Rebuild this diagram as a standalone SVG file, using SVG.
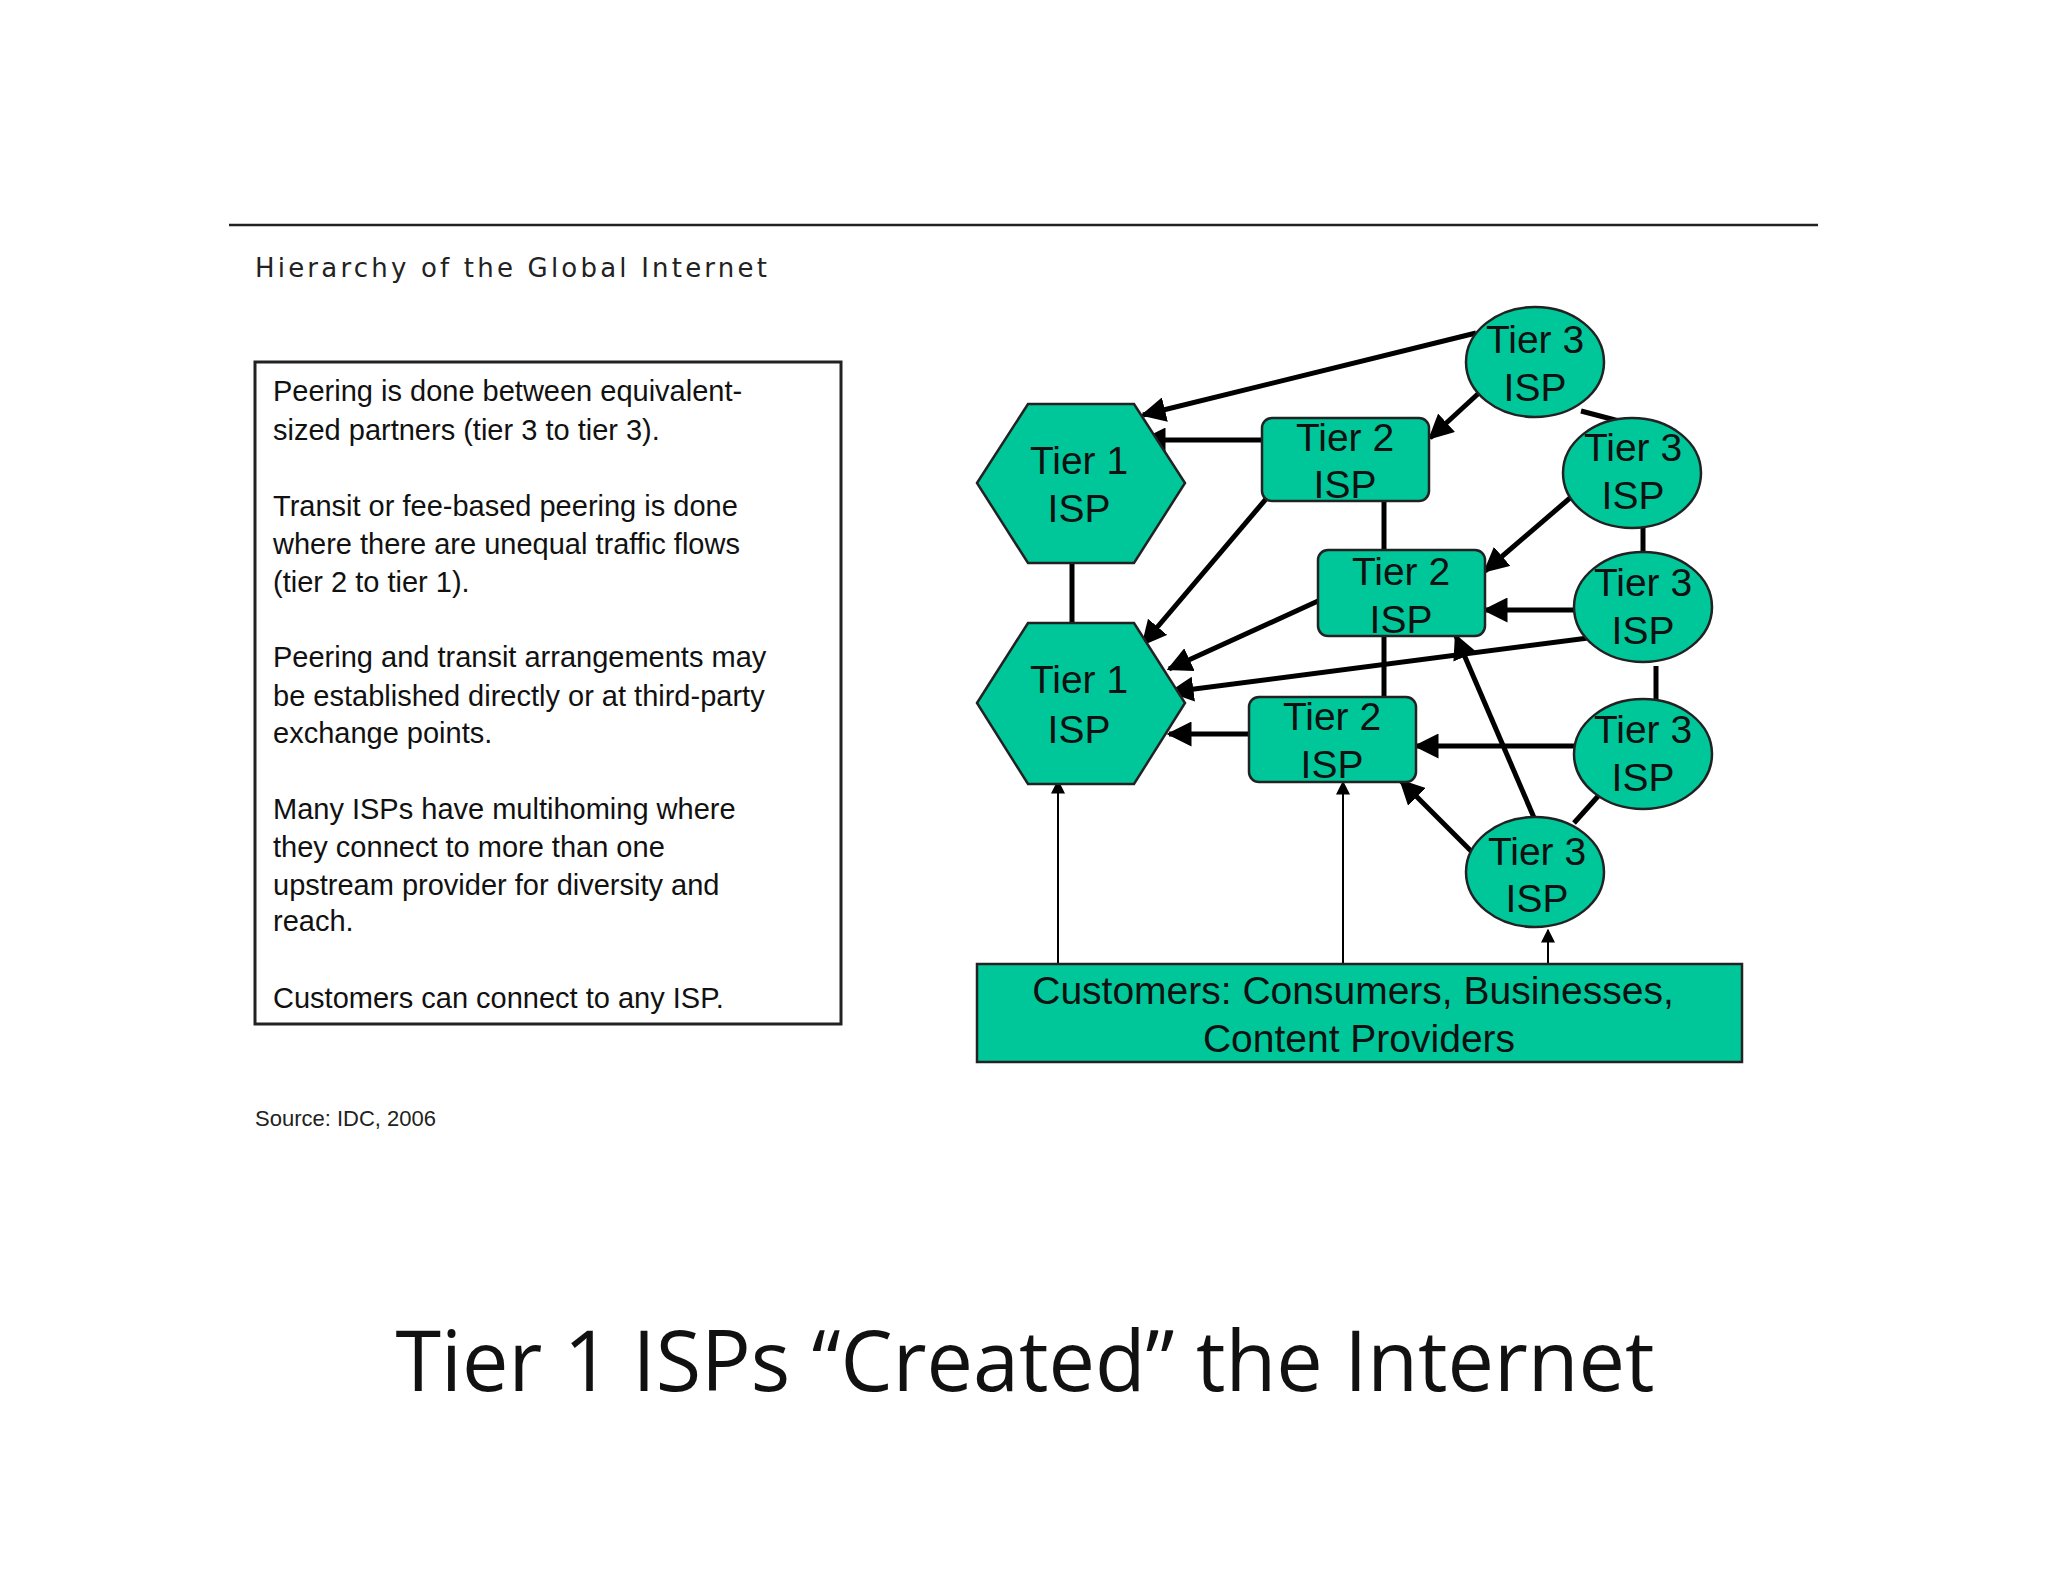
<svg xmlns="http://www.w3.org/2000/svg" width="2048" height="1582" viewBox="0 0 2048 1582">
<style>
.n{fill:#00C79A;stroke:#222;stroke-width:2.5}
.t{font-family:"Liberation Sans",Arial,sans-serif;font-size:39px;fill:#111;text-anchor:middle}
.b{font-family:"Liberation Sans",Arial,sans-serif;font-size:29px;fill:#111}
.c line{stroke:#000;stroke-width:5}
.c .th{stroke-width:2}
</style>
<defs>
<marker id="ah" viewBox="0 0 10 10" refX="9" refY="5" markerWidth="5" markerHeight="5" orient="auto" markerUnits="strokeWidth"><path d="M0,0L10,5L0,10z" fill="#000"/></marker>
<marker id="as" viewBox="0 0 10 10" refX="9" refY="5" markerWidth="7" markerHeight="7" orient="auto" markerUnits="strokeWidth"><path d="M0,0L10,5L0,10z" fill="#000"/></marker>
</defs>
<rect width="2048" height="1582" fill="#fff"/>
<line x1="229" y1="225" x2="1818" y2="225" stroke="#222" stroke-width="2.5"/>
<text x="255" y="277" font-family="'DejaVu Sans',sans-serif" font-size="26" letter-spacing="3.2" fill="#222">Hierarchy of the Global Internet</text>
<g id="notes">
<rect x="255" y="362" width="586" height="662" fill="#fff" stroke="#222" stroke-width="3"/>
<text class="b" x="273" y="401">Peering is done between equivalent-</text>
<text class="b" x="273" y="440">sized partners (tier 3 to tier 3).</text>
<text class="b" x="273" y="516">Transit or fee-based peering is done</text>
<text class="b" x="273" y="554">where there are unequal traffic flows</text>
<text class="b" x="273" y="592">(tier 2 to tier 1).</text>
<text class="b" x="273" y="667">Peering and transit arrangements may</text>
<text class="b" x="273" y="706">be established directly or at third-party</text>
<text class="b" x="273" y="743">exchange points.</text>
<text class="b" x="273" y="819">Many ISPs have multihoming where</text>
<text class="b" x="273" y="857">they connect to more than one</text>
<text class="b" x="273" y="895">upstream provider for diversity and</text>
<text class="b" x="273" y="931">reach.</text>
<text class="b" x="273" y="1008">Customers can connect to any ISP.</text>
</g>
<text x="255" y="1126" font-family="'Liberation Sans',Arial,sans-serif" font-size="22" fill="#222">Source: IDC, 2006</text>
<g class="c" id="connectors">
<line x1="1581" y1="411" x2="1619" y2="421"/>
<line x1="1643" y1="522" x2="1643" y2="559"/>
<line x1="1656" y1="666" x2="1656" y2="705"/>
<line x1="1600" y1="794" x2="1574" y2="823"/>
<line x1="1384" y1="501" x2="1384" y2="550"/>
<line x1="1384" y1="636" x2="1384" y2="697"/>
<line x1="1072" y1="563" x2="1072" y2="623"/>
<line x1="1476" y1="333" x2="1143" y2="415" marker-end="url(#ah)"/>
<line x1="1480" y1="392" x2="1430" y2="438" marker-end="url(#ah)"/>
<line x1="1262" y1="440" x2="1143" y2="440" marker-end="url(#ah)"/>
<line x1="1277" y1="486" x2="1143" y2="644" marker-end="url(#ah)"/>
<line x1="1577" y1="492" x2="1485" y2="571" marker-end="url(#ah)"/>
<line x1="1318" y1="601" x2="1169" y2="669" marker-end="url(#ah)"/>
<line x1="1576" y1="610" x2="1485" y2="610" marker-end="url(#ah)"/>
<line x1="1596" y1="637" x2="1171" y2="692" marker-end="url(#ah)"/>
<line x1="1249" y1="734" x2="1169" y2="734" marker-end="url(#ah)"/>
<line x1="1576" y1="746" x2="1416" y2="746" marker-end="url(#ah)"/>
<line x1="1482" y1="862" x2="1401" y2="781" marker-end="url(#ah)"/>
<line x1="1535" y1="820" x2="1456" y2="636" marker-end="url(#ah)"/>
<line class="th" x1="1058" y1="964" x2="1058" y2="781" marker-end="url(#as)"/>
<line class="th" x1="1343" y1="964" x2="1343" y2="782" marker-end="url(#as)"/>
<line class="th" x1="1548" y1="964" x2="1548" y2="930" marker-end="url(#as)"/>
</g>
<g id="t1a"><polygon class="n" points="977,483 1028,404 1134,404 1185,483 1134,563 1028,563"/><text class="t" x="1079" y="474">Tier 1</text><text class="t" x="1079" y="522">ISP</text></g>
<g id="t1b"><polygon class="n" points="977,703 1028,623 1134,623 1185,703 1134,784 1028,784"/><text class="t" x="1079" y="693">Tier 1</text><text class="t" x="1079" y="743">ISP</text></g>
<g id="t2a"><rect class="n" x="1262" y="418" width="167" height="83" rx="10"/><text class="t" x="1345" y="451">Tier 2</text><text class="t" x="1345" y="498">ISP</text></g>
<g id="t2b"><rect class="n" x="1318" y="550" width="167" height="86" rx="10"/><text class="t" x="1401" y="585">Tier 2</text><text class="t" x="1401" y="633">ISP</text></g>
<g id="t2c"><rect class="n" x="1249" y="697" width="167" height="85" rx="10"/><text class="t" x="1332" y="730">Tier 2</text><text class="t" x="1332" y="778">ISP</text></g>
<g id="t3a"><ellipse class="n" cx="1535" cy="362" rx="69" ry="55"/><text class="t" x="1535" y="353">Tier 3</text><text class="t" x="1535" y="401">ISP</text></g>
<g id="t3b"><ellipse class="n" cx="1632" cy="473" rx="69" ry="55"/><text class="t" x="1633" y="461">Tier 3</text><text class="t" x="1633" y="509">ISP</text></g>
<g id="t3c"><ellipse class="n" cx="1643" cy="607" rx="69" ry="55"/><text class="t" x="1643" y="596">Tier 3</text><text class="t" x="1643" y="644">ISP</text></g>
<g id="t3d"><ellipse class="n" cx="1643" cy="754" rx="69" ry="55"/><text class="t" x="1643" y="743">Tier 3</text><text class="t" x="1643" y="791">ISP</text></g>
<g id="t3e"><ellipse class="n" cx="1535" cy="872" rx="69" ry="55"/><text class="t" x="1537" y="865">Tier 3</text><text class="t" x="1537" y="912">ISP</text></g>
<g id="customers"><rect class="n" x="977" y="964" width="765" height="98"/><text class="t" x="1353" y="1004">Customers: Consumers, Businesses,</text><text class="t" x="1359" y="1052">Content Providers</text></g>
<text x="1025" y="1391" font-family="'Open Sans','Noto Sans',sans-serif" font-size="84" fill="#111" text-anchor="middle" textLength="1259" lengthAdjust="spacingAndGlyphs">Tier 1 ISPs “Created” the Internet</text>
</svg>
